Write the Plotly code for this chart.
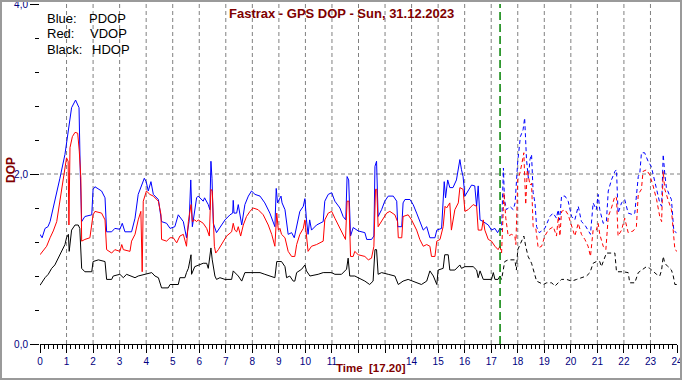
import plotly.graph_objects as go

# ---------------- data (hours, DOP) ----------------
current_time = 17 + 20 / 60  # 17:20

pdop_t = [0.00, 0.08, 0.19, 0.30, 0.38, 0.56, 0.75, 0.94, 1.07, 1.19, 1.34, 1.47, 1.52, 1.57, 1.69, 1.95,
          2.00, 2.07, 2.32, 2.45, 2.51, 2.70, 2.82, 3.01, 3.10, 3.20, 3.45, 3.58, 3.70, 3.83, 3.93, 4.00,
          4.08, 4.18, 4.27, 4.46, 4.58, 4.77, 4.90, 5.08, 5.21, 5.40, 5.52, 5.62, 5.68, 5.74, 5.90, 5.96,
          6.15, 6.20, 6.34, 6.40, 6.44, 6.48, 6.53, 6.65, 6.78, 6.97, 7.16, 7.26, 7.28, 7.31, 7.41, 7.47,
          7.60, 7.72, 7.85, 7.97, 8.10, 8.29, 8.47, 8.66, 8.85, 8.90, 8.95, 9.08, 9.12, 9.23, 9.35, 9.48,
          9.58, 9.67, 9.79, 9.92, 9.98, 10.04, 10.10, 10.16, 10.23, 10.42, 10.67, 10.73, 10.86, 10.99,
          11.11, 11.30, 11.42, 11.52, 11.57, 11.63, 11.70, 11.80, 11.99, 12.24, 12.31, 12.49, 12.58, 12.62,
          12.68, 12.74, 12.87, 12.99, 13.12, 13.31, 13.44, 13.48, 13.63, 13.68, 13.75, 13.94, 14.06, 14.19,
          14.31, 14.44, 14.57, 14.69, 14.88, 14.95, 15.13, 15.18, 15.23, 15.28, 15.36, 15.44, 15.56, 15.69,
          15.82, 15.88, 15.94, 16.01, 16.13, 16.26, 16.38, 16.45, 16.51, 16.58, 16.70, 16.89, 17.01, 17.14,
          17.24, 17.33,
          17.39, 17.46, 17.50, 17.58, 17.70, 17.83, 17.90, 18.00, 18.10, 18.20, 18.26, 18.33, 18.40, 18.46,
          18.52, 18.58, 18.65, 18.71, 18.81, 18.90, 19.02, 19.21, 19.33, 19.46, 19.52, 19.58, 19.65, 19.78,
          19.90, 20.03, 20.15, 20.28, 20.40, 20.53, 20.65, 20.74, 20.84, 20.96, 21.03, 21.09, 21.22, 21.34,
          21.41, 21.53, 21.66, 21.72, 21.78, 21.91, 22.03, 22.16, 22.35, 22.41, 22.54, 22.60, 22.66, 22.78,
          22.91, 23.03, 23.12, 23.23, 23.35, 23.42, 23.48, 23.54, 23.60, 23.73, 23.79, 23.88, 23.98]
pdop_v = [1.29, 1.25, 1.36, 1.38, 1.44, 1.68, 1.95, 2.23, 2.54, 2.78, 2.87, 2.78, 1.99, 1.44, 1.50, 1.52,
          1.82, 1.85, 1.80, 1.72, 1.32, 1.32, 1.36, 1.35, 1.42, 1.32, 1.32, 1.48, 1.76, 1.87, 1.95, 1.91,
          1.80, 1.91, 1.76, 1.70, 1.44, 1.42, 1.36, 1.38, 1.52, 1.44, 1.25, 1.45, 1.93, 1.38, 1.72, 1.74,
          1.68, 1.72, 1.64, 1.58, 2.15, 1.95, 1.42, 1.31, 1.37, 1.46, 1.52, 1.54, 1.69, 1.54, 1.54, 1.64,
          1.40, 1.64, 1.74, 1.80, 1.76, 1.74, 1.66, 1.54, 1.38, 1.83, 1.66, 1.74, 1.66, 1.58, 1.29, 1.31,
          1.25, 1.40, 1.56, 1.62, 1.71, 1.46, 1.29, 1.46, 1.34, 1.40, 1.44, 1.68, 1.76, 1.78,
          1.68, 1.60, 1.50, 1.46, 1.97, 1.93, 1.27, 1.37, 1.33, 1.31, 1.23, 1.23, 1.27, 2.09,
          2.15, 1.50, 1.58, 1.68, 1.74, 1.74, 1.68, 1.38, 1.38, 1.66, 1.70, 1.70, 1.64, 1.54,
          1.44, 1.34, 1.38, 1.25, 1.25, 1.34, 1.36, 1.62, 1.91, 1.72, 1.93, 1.84, 1.84, 1.93,
          2.17, 2.05, 1.97, 1.74, 1.80, 1.87, 1.86, 1.62, 1.86, 1.46, 1.44, 1.40, 1.34, 1.36,
          1.31, 1.36,
          1.34, 2.07, 1.69, 1.58, 1.62, 1.58, 1.66, 2.15, 2.44, 2.52, 2.66, 2.17, 1.95, 2.17,
          2.23, 1.78, 1.66, 1.38, 1.31, 1.33, 1.36, 1.50, 1.54, 1.48, 1.58, 1.46, 1.74, 1.74,
          1.68, 1.50, 1.46, 1.62, 1.44, 1.40, 1.34, 1.29, 1.66, 1.58, 1.76, 1.58, 1.42, 1.44,
          1.80, 1.93, 2.03, 2.05, 1.54, 1.66, 1.70, 1.54, 1.52, 1.54, 1.97, 2.01, 2.25, 2.25,
          2.15, 2.09, 1.97, 1.82, 1.66, 1.62, 2.23, 2.00, 1.84, 1.74, 1.70, 1.33, 1.31]

vdop_t = [0.00, 0.10, 0.25, 0.38, 0.50, 0.63, 0.75, 0.88, 1.00, 1.06, 1.09, 1.13, 1.22, 1.32, 1.42, 1.48,
          1.54, 1.57, 1.69, 1.88, 2.00, 2.07, 2.32, 2.45, 2.51, 2.70, 2.82, 3.01, 3.08, 3.14, 3.39, 3.45,
          3.58, 3.70, 3.80, 3.85, 3.89, 4.01, 4.14, 4.27, 4.46, 4.56, 4.58, 4.77, 4.90, 5.02, 5.15, 5.27,
          5.40, 5.52, 5.59, 5.69, 5.74, 5.83, 5.90, 5.96, 6.15, 6.28, 6.38, 6.44, 6.49, 6.57, 6.62, 6.72,
          6.84, 7.03, 7.22, 7.28, 7.34, 7.41, 7.47, 7.56, 7.66, 7.78, 7.91, 8.03, 8.22, 8.41, 8.60, 8.73,
          8.85, 8.92, 8.98, 9.04, 9.10, 9.23, 9.35, 9.48, 9.60, 9.67, 9.79, 9.92, 9.98, 10.04, 10.10,
          10.23, 10.42, 10.67, 10.73, 10.86, 10.99, 11.11, 11.30, 11.42, 11.51, 11.57, 11.64, 11.70, 11.80,
          11.86, 11.99, 12.24, 12.37, 12.49, 12.58, 12.64, 12.69, 12.74, 12.87, 13.06, 13.18, 13.37, 13.47,
          13.50, 13.63, 13.68, 13.87, 14.00, 14.19, 14.31, 14.44, 14.57, 14.69, 14.75, 14.88, 14.95, 15.07,
          15.19, 15.26, 15.32, 15.44, 15.50, 15.63, 15.76, 15.82, 15.94, 16.01, 16.13, 16.32, 16.45, 16.51,
          16.64, 16.70, 16.76, 16.89, 17.01, 17.14, 17.26, 17.33,
          17.39, 17.48, 17.55, 17.64, 17.77, 17.89, 17.93, 18.00, 18.08, 18.16, 18.23, 18.30, 18.36, 18.46,
          18.52, 18.58, 18.68, 18.77, 18.90, 19.02, 19.15, 19.34, 19.46, 19.53, 19.59, 19.65, 19.78, 19.90,
          20.03, 20.15, 20.28, 20.40, 20.53, 20.65, 20.74, 20.84, 20.96, 21.03, 21.09, 21.22, 21.32, 21.41,
          21.53, 21.66, 21.72, 21.78, 21.91, 22.03, 22.16, 22.35, 22.47, 22.54, 22.66, 22.72, 22.85, 22.97,
          23.10, 23.23, 23.35, 23.42, 23.48, 23.54, 23.66, 23.79, 23.92, 24.00]
vdop_v = [1.05, 1.09, 1.15, 1.25, 1.33, 1.44, 1.68, 1.91, 2.19, 2.15, 1.40, 2.31, 2.44, 2.49, 2.48, 2.27,
          1.95, 1.21, 1.23, 1.25, 1.52, 1.56, 1.54, 1.46, 1.11, 1.07, 1.11, 1.09, 1.17, 1.11, 1.09, 1.21,
          1.29, 1.46, 1.56, 0.85, 1.68, 1.80, 1.76, 1.74, 1.68, 1.52, 1.23, 1.21, 1.25, 1.25, 1.19, 1.27,
          1.29, 1.15, 1.44, 1.64, 1.44, 1.46, 1.44, 1.46, 1.42, 1.36, 1.27, 1.82, 1.80, 1.15, 1.07, 1.11,
          1.17, 1.27, 1.32, 1.42, 1.34, 1.32, 1.38, 1.27, 1.40, 1.50, 1.56, 1.60, 1.58, 1.52, 1.40, 1.29,
          1.15, 1.54, 1.34, 1.36, 1.29, 1.25, 1.09, 1.03, 1.03, 1.17, 1.29, 1.36, 1.46, 1.23, 1.09,
          1.15, 1.17, 1.21, 1.46, 1.54, 1.56, 1.48, 1.36, 1.27, 1.23, 1.68, 1.68, 1.03, 1.03,
          1.09, 1.05, 1.03, 0.99, 1.01, 1.15, 1.82, 1.82, 1.38, 1.44, 1.54, 1.56, 1.52, 1.44,
          1.25, 1.25, 1.50, 1.52, 1.46, 1.34, 1.23, 1.15, 1.17, 1.15, 1.03, 1.03, 1.21, 1.23,
          1.38, 1.62, 1.60, 1.66, 1.34, 1.58, 1.66, 1.84, 1.82, 1.56, 1.58, 1.64, 1.62, 1.34,
          1.34, 1.46, 1.34, 1.23, 1.21, 1.15, 1.11, 1.15,
          1.07, 1.78, 1.48, 1.27, 1.29, 1.27, 1.17, 1.93, 2.01, 2.13, 2.25, 1.64, 2.05, 1.87,
          1.89, 1.38, 1.36, 1.13, 1.15, 1.27, 1.34, 1.38, 1.27, 1.50, 1.27, 1.56, 1.58, 1.52,
          1.38, 1.27, 1.42, 1.29, 1.23, 1.15, 1.03, 1.34, 1.34, 1.42, 1.29, 1.15, 1.11, 1.50,
          1.60, 1.74, 1.72, 1.27, 1.34, 1.48, 1.31, 1.33, 1.38, 1.76, 1.82, 2.03, 2.05, 1.99,
          1.86, 1.70, 1.50, 1.44, 2.03, 1.82, 1.70, 1.58, 1.11, 1.09]

hdop_t = [0.00, 0.06, 0.13, 0.19, 0.31, 0.44, 0.56, 0.69, 0.82, 0.94, 1.00, 1.07, 1.10, 1.19, 1.32, 1.44,
          1.50, 1.54, 1.57, 1.69, 1.95, 2.00, 2.20, 2.45, 2.51, 2.70, 2.76, 3.01, 3.14, 3.26, 3.45, 3.58,
          3.70, 3.95, 4.21, 4.33, 4.46, 4.58, 4.83, 4.90, 5.21, 5.27, 5.46, 5.52, 5.59, 5.69, 5.71, 5.83,
          5.96, 6.15, 6.28, 6.34, 6.44, 6.49, 6.59, 6.65, 6.78, 6.97, 7.22, 7.28, 7.47, 7.60, 7.72, 7.97,
          8.29, 8.47, 8.66, 8.85, 8.92, 9.10, 9.23, 9.29, 9.41, 9.54, 9.60, 9.67, 9.86, 9.98, 10.04, 10.17,
          10.48, 10.67, 10.99, 11.11, 11.36, 11.55, 11.61, 11.67, 11.86, 12.24, 12.42, 12.55, 12.62, 12.68,
          12.74, 12.87, 13.12, 13.37, 13.50, 13.68, 13.87, 14.19, 14.37, 14.57, 14.69, 14.82, 14.95, 15.00,
          15.19, 15.25, 15.38, 15.44, 15.63, 15.82, 15.88, 16.01, 16.32, 16.45, 16.51, 16.58, 16.70, 17.01,
          17.08, 17.14, 17.26, 17.33,
          17.39, 17.51, 17.64, 17.89, 17.95, 18.00, 18.13, 18.23, 18.30, 18.39, 18.52, 18.58, 18.71, 18.84,
          18.96, 19.09, 19.28, 19.40, 19.53, 19.65, 19.84, 20.03, 20.22, 20.40, 20.59, 20.72, 20.84, 20.96,
          21.09, 21.15, 21.34, 21.66, 21.72, 21.97, 22.16, 22.22, 22.41, 22.54, 22.66, 22.85, 22.97, 23.10,
          23.23, 23.35, 23.42, 23.48, 23.54, 23.66, 23.79, 23.86, 23.92, 24.00]
hdop_v = [0.69, 0.72, 0.76, 0.78, 0.82, 0.89, 0.93, 1.01, 1.09, 1.17, 1.25, 1.29, 1.09, 1.34, 1.40, 1.40,
          1.36, 1.01, 0.89, 0.85, 0.85, 0.97, 0.99, 0.97, 0.76, 0.76, 0.80, 0.82, 0.78, 0.82, 0.80, 0.78,
          0.80, 0.82, 0.84, 0.80, 0.78, 0.66, 0.66, 0.70, 0.70, 0.78, 0.78, 0.84, 0.89, 1.05, 0.82, 0.91,
          0.93, 0.95, 0.95, 0.89, 1.13, 0.99, 0.80, 0.76, 0.78, 0.76, 0.76, 0.86, 0.80, 0.74, 0.84, 0.84,
          0.84, 0.82, 0.80, 0.78, 0.97, 0.97, 0.91, 0.78, 0.80, 0.74, 0.74, 0.84, 0.88, 0.93, 0.86, 0.80,
          0.82, 0.84, 0.84, 0.82, 0.82, 0.88, 1.01, 0.80, 0.80, 0.74, 0.70, 0.74, 1.11, 1.11,
          0.82, 0.84, 0.82, 0.80, 0.70, 0.74, 0.76, 0.72, 0.70, 0.74, 0.86, 0.80, 0.70, 0.87,
          0.89, 1.05, 1.05, 0.87, 0.87, 0.93, 0.89, 0.91, 0.91, 0.87, 0.78, 0.86, 0.76, 0.76,
          0.84, 0.76, 0.76, 0.80,
          0.76, 0.97, 0.99, 0.99, 0.87, 1.11, 1.19, 1.27, 1.15, 1.03, 0.95, 0.89, 0.74, 0.72,
          0.70, 0.72, 0.72, 0.68, 0.72, 0.76, 0.76, 0.74, 0.76, 0.78, 0.80, 0.84, 0.95, 0.97,
          0.97, 0.91, 1.07, 1.07, 0.85, 0.85, 0.84, 0.72, 0.72, 0.84, 0.87, 0.91, 0.89, 0.85,
          0.82, 0.80, 0.87, 1.03, 0.95, 0.91, 0.87, 0.80, 0.70, 0.70]

hour_ticks = list(range(0, 25))
# the hour labels 12 and 13 are replaced by the time caption in the original
hour_labels = ["" if h in (12, 13) else str(h) for h in hour_ticks]
y_tick_vals = [0, 2, 4]
y_tick_text = ["0,0", "2,0", "4,0"]

title_text = "Fastrax - GPS DOP - Sun, 31.12.2023"
time_caption = "Time\u00a0\u00a0[17.20]"
legend_rows = [("Blue:", "PDOP"), ("Red:", "VDOP"), ("Black:", "HDOP")]

# ---------------- figure ----------------
W, H = 682, 380
ML, MR, MT, MB = 40, 5, 4, 36
PW, PH = W - ML - MR, H - MT - MB


def px_x(px):
    return (px - ML) / PW


def px_y(py):
    return (H - MB - py) / PH


def split(t, v, cut):
    st, sv, dt, dv = [], [], [], []
    for ti, vi in zip(t, v):
        if ti <= cut + 1e-6:
            st.append(ti)
            sv.append(vi)
    dt.append(st[-1])
    dv.append(sv[-1])
    for ti, vi in zip(t, v):
        if ti > cut + 1e-6:
            dt.append(ti)
            dv.append(vi)
    return st, sv, dt, dv


fig = go.Figure()
FONT = "Arial, 'Liberation Sans', sans-serif"
series = [("PDOP", pdop_t, pdop_v, "#0000FF"),
          ("VDOP", vdop_t, vdop_v, "#FF0000"),
          ("HDOP", hdop_t, hdop_v, "#000000")]
for name, t, v, col in series:
    st, sv, dt, dv = split(t, v, current_time)
    fig.add_trace(go.Scatter(x=st, y=sv, mode="lines", name=name,
                             line=dict(color=col, width=1), showlegend=False, hoverinfo="skip"))
    fig.add_trace(go.Scatter(x=dt, y=dv, mode="lines", name=name + " (prev)",
                             line=dict(color=col, width=1, dash="4px,3px"), showlegend=False,
                             hoverinfo="skip"))

shapes = []
for h in hour_ticks[1:-1]:
    shapes.append(dict(type="line", xref="x", yref="paper", x0=h, x1=h, y0=0, y1=1,
                       line=dict(color="#808080", width=1, dash="4px,3px"), layer="below"))
shapes.append(dict(type="line", xref="paper", yref="y", x0=0, x1=px_x(681), y0=2, y1=2,
                   line=dict(color="#808080", width=1, dash="4px,3px"), layer="below"))
shapes.append(dict(type="line", xref="x", yref="paper", x0=current_time, x1=current_time, y0=0, y1=1,
                   line=dict(color="#008000", width=1.5, dash="8px,4px")))
shapes.append(dict(type="rect", xref="paper", yref="paper", x0=px_x(1), x1=px_x(681),
                   y0=px_y(379), y1=px_y(1), line=dict(color="#9a9a9a", width=2)))

annotations = [
    dict(text="<b>" + title_text + "</b>", xref="paper", yref="paper", x=px_x(341), y=px_y(13.5),
         xanchor="center", yanchor="middle", showarrow=False,
         font=dict(family=FONT, size=13, color="#800000")),
    dict(text="<b>" + time_caption + "</b>", xref="paper", yref="paper", x=px_x(334), y=px_y(368),
         xanchor="left", yanchor="middle", showarrow=False,
         font=dict(family=FONT, size=11.5, color="#800000")),
    dict(text="<b>DOP</b>", xref="paper", yref="paper", x=px_x(11), y=px_y(170),
         xanchor="center", yanchor="middle", showarrow=False, textangle=-90,
         font=dict(family=FONT, size=12, color="#800000")),
]
row_y = [18.3, 33.5, 49.3]
val_x = [87, 88.3, 90]
for (lab, val), ry, vx in zip(legend_rows, row_y, val_x):
    annotations.append(dict(text=lab, xref="paper", yref="paper", x=px_x(45), y=px_y(ry),
                            xanchor="left", yanchor="middle", showarrow=False,
                            font=dict(family=FONT, size=13, color="#000000")))
    annotations.append(dict(text=val, xref="paper", yref="paper", x=px_x(vx), y=px_y(ry),
                            xanchor="left", yanchor="middle", showarrow=False,
                            font=dict(family=FONT, size=13, color="#000000")))

fig.update_layout(
    width=W, height=H, autosize=False,
    margin=dict(l=ML, r=MR, t=MT, b=MB, pad=0, autoexpand=False),
    paper_bgcolor="white", plot_bgcolor="white",
    showlegend=False,
    shapes=shapes, annotations=annotations,
    xaxis=dict(range=[0, 24], tickvals=hour_ticks, ticktext=hour_labels,
               ticks="outside", ticklen=8, tickcolor="black", tickwidth=1,
               minor=dict(dtick=1 / 6, tick0=0, ticks="outside", ticklen=4, tickcolor="black", tickwidth=1),
               showline=True, linecolor="black", linewidth=1, showgrid=False, zeroline=False,
               ticklabeloverflow="allow", automargin=False,
               tickfont=dict(family=FONT, size=10, color="#000080"), fixedrange=True),
    yaxis=dict(range=[0, 4], tickvals=y_tick_vals, ticktext=y_tick_text,
               ticks="outside", ticklen=9, tickcolor="black", tickwidth=1,
               minor=dict(dtick=0.4, tick0=0, ticks="outside", ticklen=4, tickcolor="black", tickwidth=1),
               showline=False, showgrid=False, zeroline=False,
               ticklabeloverflow="allow", automargin=False,
               tickfont=dict(family=FONT, size=10, color="#000080"), fixedrange=True),
)

fig.write_html("out.html", config={"displayModeBar": False},
               post_script="document.body.style.margin='0';document.body.style.overflow='hidden';")
